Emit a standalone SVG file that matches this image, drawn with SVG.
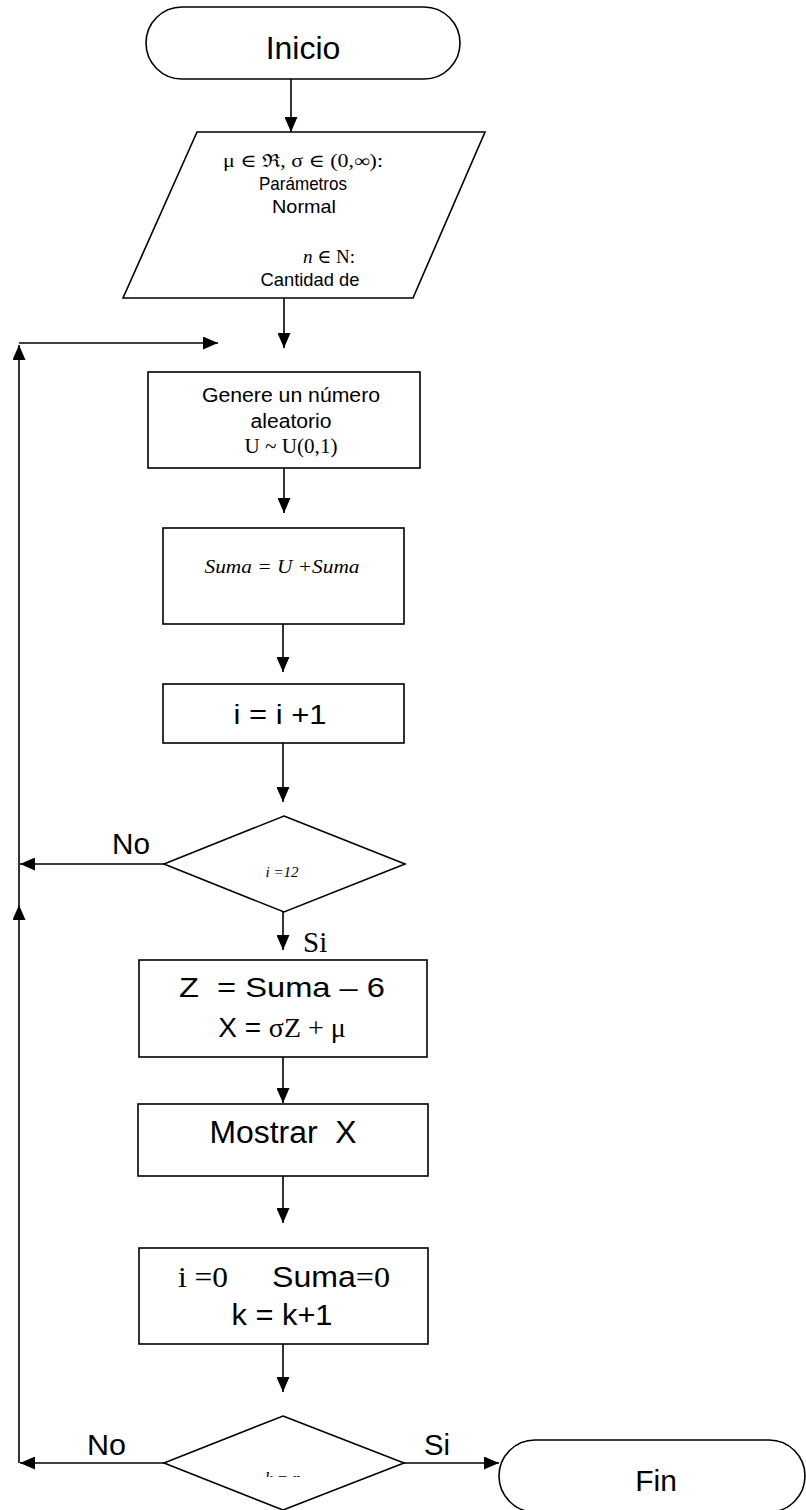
<svg xmlns="http://www.w3.org/2000/svg" width="806" height="1510" viewBox="0 0 806 1510">
<style>
.s{fill:#fff;stroke:#000;stroke-width:1.6}
.c{fill:none;stroke:#000;stroke-width:1.6}
.a{font-family:"Liberation Sans",Arial,sans-serif;fill:#000}
.t{font-family:"Liberation Serif","DejaVu Serif",serif;fill:#000}
.i{font-style:italic}
.p{white-space:pre}
</style>
<defs>
<marker id="ar" markerUnits="userSpaceOnUse" markerWidth="15" markerHeight="13" refX="15" refY="6.5" orient="auto">
<path d="M0,0 L15,6.5 L0,13 z" fill="#000"/>
</marker>
<clipPath id="kc"><rect x="200" y="1440" width="170" height="37"/></clipPath>
</defs>

<g id="connectors">
<line class="c" x1="291" y1="79" x2="291" y2="132" marker-end="url(#ar)"/>
<line class="c" x1="284" y1="298" x2="284" y2="348" marker-end="url(#ar)"/>
<line class="c" x1="19" y1="343" x2="218" y2="343" marker-end="url(#ar)"/>
<line class="c" x1="284" y1="468" x2="284" y2="513" marker-end="url(#ar)"/>
<line class="c" x1="283" y1="624" x2="283" y2="672" marker-end="url(#ar)"/>
<line class="c" x1="283" y1="743" x2="283" y2="802" marker-end="url(#ar)"/>
<line class="c" x1="164" y1="864" x2="20" y2="864" marker-end="url(#ar)"/>
<line class="c" x1="283" y1="912" x2="283" y2="950" marker-end="url(#ar)"/>
<line class="c" x1="283" y1="1057" x2="283" y2="1103" marker-end="url(#ar)"/>
<line class="c" x1="283" y1="1176" x2="283" y2="1223" marker-end="url(#ar)"/>
<line class="c" x1="283" y1="1344" x2="283" y2="1392" marker-end="url(#ar)"/>
<line class="c" x1="164" y1="1463" x2="20" y2="1463" marker-end="url(#ar)"/>
<line class="c" x1="404" y1="1463" x2="499" y2="1463" marker-end="url(#ar)"/>
<line class="c" x1="19" y1="1463" x2="19" y2="905" marker-end="url(#ar)"/>
<line class="c" x1="19" y1="905" x2="19" y2="345" marker-end="url(#ar)"/>
<text class="a" x="112" y="854" font-size="30" textLength="38" lengthAdjust="spacingAndGlyphs">No</text>
<text class="t" x="303" y="952" font-size="29">Si</text>
<text class="a" x="87" y="1455" font-size="30" textLength="39" lengthAdjust="spacingAndGlyphs">No</text>
<text class="a" x="424" y="1455" font-size="29" textLength="26" lengthAdjust="spacingAndGlyphs">Si</text>
</g>

<g id="inicio">
<rect class="s" x="146" y="7" width="314" height="72" rx="36" ry="36"/>
<text class="a" x="303" y="59" font-size="32" text-anchor="middle">Inicio</text>
</g>

<g id="parametros">
<polygon class="s" points="197,132 485,132 413,298 123,298"/>
<text class="t" x="303" y="167" font-size="18" text-anchor="middle" textLength="160" lengthAdjust="spacingAndGlyphs">μ ∈ ℜ, σ ∈ (0,∞):</text>
<text class="a" x="303" y="190" font-size="19" text-anchor="middle" textLength="88" lengthAdjust="spacingAndGlyphs">Parámetros</text>
<text class="a" x="304" y="213" font-size="19" text-anchor="middle" textLength="64" lengthAdjust="spacingAndGlyphs">Normal</text>
<text class="t" x="329" y="263" font-size="19" text-anchor="middle"><tspan class="i">n</tspan> ∈ N:</text>
<text class="a" x="310" y="286" font-size="19" text-anchor="middle" textLength="99" lengthAdjust="spacingAndGlyphs">Cantidad de</text>
</g>

<g id="genere">
<rect class="s" x="148" y="372" width="272" height="96"/>
<text class="a" x="291" y="402" font-size="20" text-anchor="middle" textLength="178" lengthAdjust="spacingAndGlyphs">Genere un número</text>
<text class="a" x="291" y="428" font-size="20" text-anchor="middle" textLength="81" lengthAdjust="spacingAndGlyphs">aleatorio</text>
<text class="t" x="291" y="453" font-size="20" text-anchor="middle" textLength="93" lengthAdjust="spacingAndGlyphs">U ~ U(0,1)</text>
</g>

<g id="suma">
<rect class="s" x="163" y="528" width="241" height="96"/>
<text class="t i" x="282" y="573" font-size="19" text-anchor="middle" textLength="155" lengthAdjust="spacingAndGlyphs">Suma = U +Suma</text>
</g>

<g id="incremento">
<rect class="s" x="163" y="684" width="241" height="59"/>
<text class="a" x="280" y="724" font-size="28" text-anchor="middle" textLength="93" lengthAdjust="spacingAndGlyphs">i = i +1</text>
</g>

<g id="decision1">
<polygon class="s" points="284,816 405,864 284,912 164,864"/>
<text class="t i" x="282" y="877" font-size="15" text-anchor="middle">i =12</text>
</g>

<g id="calculo">
<rect class="s" x="139" y="960" width="288" height="97"/>
<text class="a p" x="282" y="997" font-size="28" text-anchor="middle" textLength="206" lengthAdjust="spacingAndGlyphs">Z  = Suma – 6</text>
<text x="282" y="1037" font-size="28" text-anchor="middle"><tspan class="a">X = </tspan><tspan class="t">σZ + μ</tspan></text>
</g>

<g id="mostrar">
<rect class="s" x="138" y="1104" width="290" height="72"/>
<text class="a p" x="283" y="1143" font-size="31" text-anchor="middle" textLength="147" lengthAdjust="spacingAndGlyphs">Mostrar  X</text>
</g>

<g id="reinicio">
<rect class="s" x="139" y="1248" width="289" height="96"/>
<text class="t" x="178" y="1287" font-size="30" textLength="50" lengthAdjust="spacingAndGlyphs">i =0</text>
<text x="272" y="1287" font-size="30" textLength="118" lengthAdjust="spacingAndGlyphs"><tspan class="a">Suma</tspan><tspan class="t">=0</tspan></text>
<text class="a" x="282" y="1325" font-size="30" text-anchor="middle" textLength="101" lengthAdjust="spacingAndGlyphs">k = k+1</text>
</g>

<g id="decision2">
<polygon class="s" points="283,1416 404,1463 283,1510 164,1463"/>
<text class="t i" x="283" y="1484" font-size="17" text-anchor="middle" clip-path="url(#kc)">k = n</text>
</g>

<g id="fin">
<rect class="s" x="499" y="1440" width="306" height="72" rx="36" ry="36"/>
<text class="a" x="656" y="1491" font-size="30" text-anchor="middle">Fin</text>
</g>
</svg>
